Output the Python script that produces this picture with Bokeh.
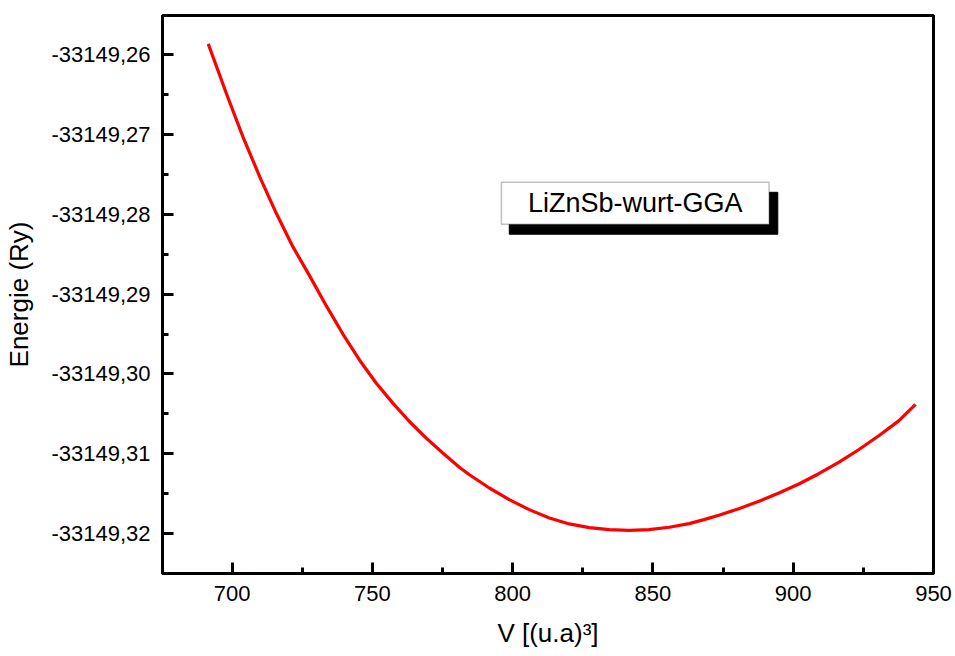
from bokeh.plotting import figure
from bokeh.models import Range1d, FixedTicker, CustomJSTickFormatter, BoxAnnotation, Label, ColumnDataSource
from bokeh.embed import file_html
from bokeh.resources import INLINE

volume = [691.5, 698.0, 703.9, 709.9, 715.8, 721.7, 727.7, 733.6, 739.5, 745.4,
          751.4, 757.3, 763.2, 769.2, 775.1, 781.0, 784.6, 791.7, 798.8, 805.9,
          813.1, 820.2, 827.3, 834.4, 841.5, 848.6, 855.8, 862.9, 868.2, 873.5,
          880.6, 887.8, 894.9, 902.0, 909.1, 916.2, 923.3, 930.5, 937.6, 943.6]
energy = [-33149.25866, -33149.26491, -33149.27034, -33149.27534, -33149.27991,
          -33149.28409, -33149.28775, -33149.29148, -33149.29500, -33149.29825,
          -33149.30116, -33149.30366, -33149.30596, -33149.30804, -33149.30991,
          -33149.31168, -33149.31263, -33149.31429, -33149.31575, -33149.31700,
          -33149.31804, -33149.31879, -33149.31925, -33149.31950, -33149.31959,
          -33149.31950, -33149.31921, -33149.31875, -33149.31825, -33149.31770,
          -33149.31688, -33149.31596, -33149.31491, -33149.31379, -33149.31250,
          -33149.31109, -33149.30950, -33149.30775, -33149.30588, -33149.30381]
x_ticks = [700, 750, 800, 850, 900, 950]
x_minor = [675, 725, 775, 825, 875, 925]
y_ticks = [-33149.26, -33149.27, -33149.28, -33149.29, -33149.30, -33149.31, -33149.32]
y_minor = [-33149.255, -33149.265, -33149.275, -33149.285, -33149.295, -33149.305, -33149.315, -33149.325]
legend_text = "LiZnSb-wurt-GGA"
x_title = "V [(u.a)³]"
y_title = "Energie (Ry)"

FONT = "Liberation Sans"

p = figure(width=955, height=656, output_backend="svg", toolbar_location=None,
           x_range=Range1d(675.2, 950.0), y_range=Range1d(-33149.325, -33149.2551),
           min_border_left=162, min_border_right=22, min_border_top=15, min_border_bottom=83)
p.grid.visible = False
p.background_fill_color = "white"
p.border_fill_color = "white"
p.outline_line_color = "black"
p.outline_line_width = 3

src = ColumnDataSource(dict(v=volume, e=energy))
p.line("v", "e", source=src, line_color="#ff0000", line_width=3.2, line_join="round")

for ax, ticks, minor in ((p.xaxis[0], x_ticks, x_minor), (p.yaxis[0], y_ticks, y_minor)):
    ax.ticker = FixedTicker(ticks=ticks, minor_ticks=minor)
    ax.axis_line_width = 3
    ax.axis_line_color = "black"
    ax.major_tick_in = 11
    ax.major_tick_out = 0
    ax.minor_tick_in = 6
    ax.minor_tick_out = 0
    ax.major_tick_line_width = 3
    ax.minor_tick_line_width = 3
    ax.major_label_text_font = FONT
    ax.major_label_text_font_size = "22px"
    ax.major_label_text_color = "black"
    ax.major_label_standoff = 12
    ax.axis_label_text_font = FONT
    ax.axis_label_text_font_size = "26px"
    ax.axis_label_text_font_style = "normal"
    ax.axis_label_text_color = "black"

p.xaxis[0].formatter = CustomJSTickFormatter(code="return tick.toFixed(0);")
p.yaxis[0].formatter = CustomJSTickFormatter(code="return tick.toFixed(2).replace('.', ',');")

p.xaxis[0].axis_label = x_title
p.xaxis[0].axis_label_standoff = 14
p.yaxis[0].axis_label = y_title
p.yaxis[0].axis_label_standoff = 14

# legend box with shadow
p.add_layout(BoxAnnotation(left=798.8, right=894.5, top=-33149.27725, bottom=-33149.2825,
                           fill_color="black", fill_alpha=1.0, line_color="black", line_alpha=1.0))
p.add_layout(BoxAnnotation(left=795.98, right=891.4, top=-33149.276, bottom=-33149.28125,
                           fill_color="white", fill_alpha=1.0, line_color="#333333", line_width=1.5))
p.add_layout(Label(x=843.7, y=-33149.2786, text=legend_text, text_align="center",
                   text_baseline="middle", text_font=FONT, text_font_size="27px",
                   text_color="black"))

open("out.html", "w").write(file_html(p, INLINE))
